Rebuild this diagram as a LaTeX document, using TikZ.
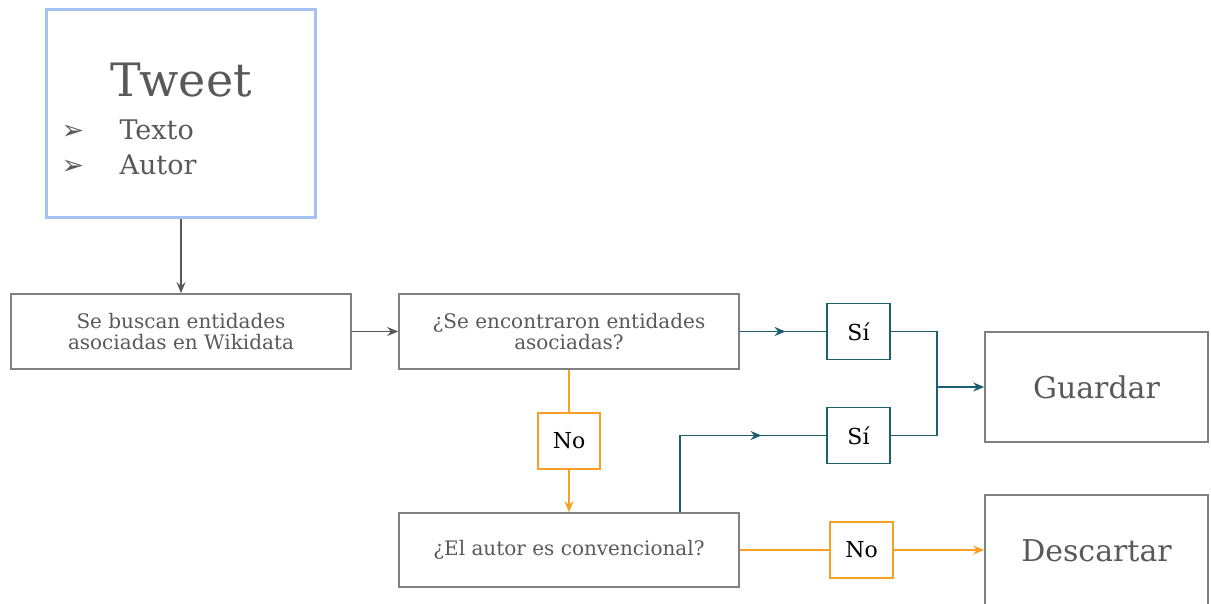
\documentclass[tikz,border=0pt]{standalone}
\usepackage{fontspec}
\setmainfont{DejaVu Serif}
\newfontfamily\symfont{DejaVu Sans}
\usetikzlibrary{arrows.meta,decorations.markings}
\definecolor{gris}{HTML}{808080}
\definecolor{texto}{HTML}{595959}
\definecolor{azul}{HTML}{A4C2F4}
\definecolor{verde}{HTML}{1D5F6C}
\definecolor{naranja}{HTML}{F6A125}
\tikzset{
    caja/.style={draw=gris,line width=1.6pt,text=texto,minimum width=340pt,minimum height=75pt,align=center,font=\fontsize{20}{21}\selectfont},
    final/.style={draw=gris,line width=1.6pt,text=texto,minimum width=223pt,minimum height=110pt,font=\fontsize{30}{32}\selectfont},
    etiq/.style={draw=#1,line width=1.6pt,minimum width=63pt,minimum height=56pt,font=\fontsize{22}{23}\selectfont},
    flecha/.style={-{Stealth[length=11pt,width=9pt]},line width=1.6pt},
    medio/.style={line width=1.6pt,postaction={decorate},decoration={markings,mark=at position #1 with {\arrow{Stealth[length=11pt,width=9pt]}}}}
}
\begin{document}
\begin{tikzpicture}[x=1pt,y=-1pt]
        \useasboundingbox (0,0) rectangle (1211,604);
        \node [draw=azul,line width=3pt,minimum width=269pt,minimum height=208pt] (tweet) at (181,114) {};
        \node [text=texto,font=\fontsize{46}{48}\selectfont] (titulo) at (181,80) {Tweet};
        \node [text=texto,anchor=west,font=\fontsize{27}{28}\selectfont] (texto) at (58,130) {\makebox[58pt][l]{\symfont ➢}Texto};
        \node [text=texto,anchor=west,font=\fontsize{27}{28}\selectfont] (autor) at (58,165) {\makebox[58pt][l]{\symfont ➢}Autor};
        \node [caja,minimum width=340pt] (buscar) at (181,331.5) {Se buscan entidades\\asociadas en Wikidata};
        \node [caja] (encontradas) at (569,331.5) {¿Se encontraron entidades\\asociadas?};
        \node [caja,minimum height=74pt] (autorconv) at (569,550) {¿El autor es convencional?};
        \node [etiq=verde] (si1) at (858.5,331.5) {Sí};
        \node [etiq=verde] (si2) at (858.5,435.5) {Sí};
        \node [etiq=naranja,minimum width=62pt] (no1) at (569,441) {No};
        \node [etiq=naranja] (no2) at (861.5,550) {No};
        \node [final] (guardar) at (1096.5,387) {Guardar};
        \node [final,minimum height=112pt] (descartar) at (1096.5,551) {Descartar};
        \coordinate (union) at (937,387);
        \coordinate (subida) at (680,435.5);
        \draw [medio=0.53,draw=verde] (encontradas.east |- si1) -- (si1);
        \draw [medio=0.71,draw=verde] (autorconv.north -| subida) -- (subida) -- (si2);
        \draw [line width=1.6pt,draw=verde] (si1) -| (union);
        \draw [line width=1.6pt,draw=verde] (si2) -| (union);
        \draw [flecha,draw=verde] (union) -- (guardar);
        \draw [flecha,draw=texto,fill=texto] (tweet) -- (buscar);
        \draw [flecha,draw=texto,fill=texto] (buscar) -- (encontradas);
        \draw [line width=1.6pt,draw=naranja] (encontradas) -- (no1);
        \draw [flecha,draw=naranja] (no1) -- (autorconv);
        \draw [line width=1.6pt,draw=naranja] (autorconv) -- (no2);
        \draw [flecha,draw=naranja] (no2) -- (descartar.west |- no2);
    \end{tikzpicture}
\end{document}
